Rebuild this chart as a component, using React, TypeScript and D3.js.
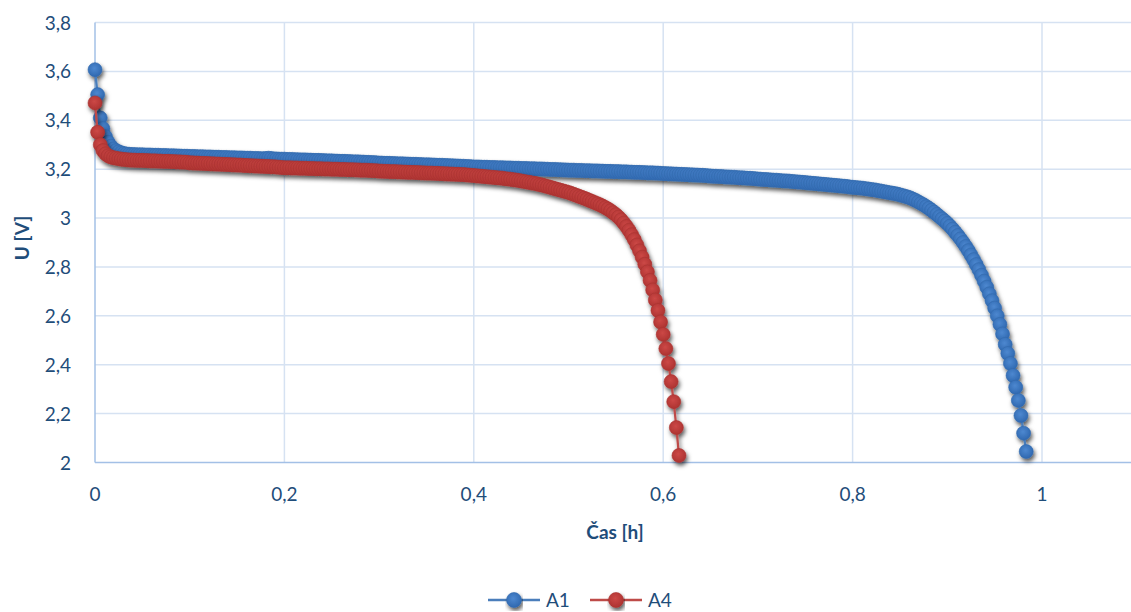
import React, { useEffect, useRef } from "react";
import * as d3 from "d3";

const W = 1131;
const H = 612;

// one measurement every 10 s, time axis in hours
const SAMPLE_STEP_H = 10 / 3600;

// cell voltage in mV, sample by sample
const a1mV = [
  3607, 3505, 3410, 3366, 3333, 3310, 3294, 3283, 3276, 3271, 3267, 3264, 3262, 3261,
  3260, 3260, 3259, 3259, 3259, 3258, 3258, 3258, 3257, 3257, 3257, 3256, 3256, 3256, 3255, 3255, 3255, 3254, 3254, 3253, 3253, 3253,
  3252, 3252, 3252, 3251, 3251, 3251, 3250, 3250, 3250, 3249, 3249, 3249, 3248, 3248, 3248, 3247, 3247, 3247,
  3246, 3246, 3246, 3245, 3245, 3245, 3244, 3244, 3244, 3243, 3243, 3244, 3245, 3244, 3242, 3242, 3241, 3241,
  3241, 3240, 3240, 3240, 3239, 3239, 3238, 3238, 3238, 3237, 3237, 3236, 3236, 3236, 3235, 3235, 3234, 3234,
  3234, 3233, 3233, 3232, 3232, 3232, 3231, 3231, 3230, 3230, 3230, 3229, 3229, 3228, 3228, 3227, 3227, 3226,
  3225, 3225, 3224, 3224, 3224, 3223, 3223, 3222, 3222, 3222, 3221, 3221, 3220, 3220, 3220, 3219, 3219, 3218,
  3218, 3218, 3217, 3217, 3216, 3216, 3216, 3215, 3215, 3214, 3214, 3213, 3213, 3212, 3212, 3211, 3211, 3210,
  3209, 3209, 3209, 3208, 3208, 3208, 3207, 3207, 3207, 3206, 3206, 3206, 3205, 3205, 3205, 3204, 3204, 3204,
  3203, 3203, 3203, 3202, 3202, 3202, 3201, 3201, 3201, 3200, 3200, 3199, 3199, 3199, 3198, 3198, 3197, 3197,
  3196, 3196, 3196, 3195, 3195, 3195, 3194, 3194, 3194, 3193, 3193, 3193, 3192, 3192, 3191, 3191, 3191, 3190,
  3190, 3190, 3189, 3189, 3189, 3188, 3188, 3187, 3187, 3187, 3186, 3186, 3185, 3185, 3185, 3184, 3184, 3183,
  3182, 3182, 3181, 3181, 3180, 3180, 3179, 3179, 3178, 3178, 3177, 3177, 3176, 3176, 3175, 3175, 3174, 3173,
  3172, 3171, 3171, 3170, 3170, 3169, 3168, 3168, 3167, 3167, 3166, 3165, 3165, 3164, 3163, 3163, 3162, 3161,
  3160, 3159, 3158, 3158, 3157, 3156, 3155, 3155, 3154, 3153, 3152, 3152, 3151, 3150, 3149, 3148, 3147, 3146,
  3145, 3144, 3143, 3142, 3141, 3140, 3139, 3138, 3137, 3136, 3135, 3134, 3133, 3132, 3131, 3130, 3129, 3127,
  3126, 3125, 3124, 3123, 3122, 3120, 3119, 3117, 3116, 3114, 3112, 3110, 3108, 3106, 3104, 3102, 3100, 3098,
  3095, 3092, 3089, 3086, 3082, 3077, 3072, 3066, 3060, 3054, 3047, 3040, 3032, 3024, 3015, 3006, 2997, 2988,
  2978, 2967, 2955, 2942, 2929, 2915, 2900, 2884, 2867, 2849, 2830, 2810, 2789, 2766, 2742, 2717, 2690, 2662,
  2632, 2600, 2565, 2526, 2483, 2446, 2405, 2356, 2308, 2254, 2192, 2120, 2045,
];

const a4mV = [
  3471, 3351, 3300, 3276, 3263, 3255, 3250, 3247, 3245, 3243, 3241, 3240, 3239, 3238,
  3237, 3237, 3236, 3236, 3236, 3235, 3235, 3234, 3234, 3234, 3233, 3233, 3232, 3232, 3232, 3231, 3231, 3230, 3230, 3229, 3229, 3228,
  3226, 3226, 3225, 3225, 3224, 3224, 3223, 3223, 3222, 3222, 3221, 3221, 3220, 3220, 3219, 3219, 3218, 3218,
  3217, 3217, 3216, 3215, 3215, 3214, 3214, 3213, 3213, 3212, 3212, 3211, 3211, 3210, 3210, 3209, 3208, 3207,
  3206, 3206, 3206, 3205, 3205, 3205, 3204, 3204, 3204, 3203, 3203, 3203, 3202, 3202, 3202, 3201, 3201, 3201,
  3200, 3200, 3200, 3199, 3199, 3199, 3198, 3198, 3198, 3197, 3197, 3196, 3196, 3196, 3195, 3195, 3194, 3194,
  3192, 3192, 3191, 3191, 3190, 3190, 3190, 3189, 3189, 3188, 3188, 3187, 3187, 3187, 3186, 3186, 3185, 3185,
  3184, 3184, 3184, 3183, 3183, 3182, 3182, 3181, 3181, 3180, 3180, 3179, 3179, 3178, 3178, 3177, 3176, 3175,
  3174, 3173, 3172, 3171, 3170, 3169, 3168, 3167, 3166, 3165, 3164, 3163, 3161, 3160, 3159, 3157, 3156, 3154,
  3152, 3150, 3148, 3146, 3144, 3142, 3140, 3137, 3135, 3132, 3129, 3126, 3123, 3120, 3117, 3114, 3111, 3108,
  3105, 3101, 3097, 3093, 3089, 3085, 3081, 3077, 3072, 3068, 3063, 3059, 3054, 3049, 3043, 3037, 3030, 3022,
  3014, 3004, 2993, 2980, 2966, 2950, 2932, 2912, 2890, 2866, 2840, 2811, 2780, 2745, 2706, 2665, 2622, 2575,
  2524, 2466, 2405, 2331, 2249, 2143, 2029,
];

const seriesNames = ["A1", "A4"];
const xTicks = [0, 0.2, 0.4, 0.6, 0.8, 1];
const yTicks = [2, 2.2, 2.4, 2.6, 2.8, 3, 3.2, 3.4, 3.6, 3.8];

const FONT = "Lato, 'Open Sans', sans-serif";
const TEXT = "#1f4d7a";
const comma = (v: number) => String(+v.toFixed(1)).replace(".", ",");

export default function App() {
  const ref = useRef<SVGSVGElement>(null);

  useEffect(() => {
    const svg = d3.select(ref.current);
    svg.selectAll("*").remove();

    const x = d3.scaleLinear().domain([0, 1.1]).range([95, 95 + 947 * 1.1]);
    const y = d3.scaleLinear().domain([2, 3.8]).range([462.5, 22.5]);

    const defs = svg.append("defs");
    const f = defs
      .append("filter")
      .attr("id", "shadow")
      .attr("x", "-5%")
      .attr("y", "-5%")
      .attr("width", "115%")
      .attr("height", "125%");
    f.append("feDropShadow")
      .attr("dx", 1.5)
      .attr("dy", 3)
      .attr("stdDeviation", 2.2)
      .attr("flood-color", "#000")
      .attr("flood-opacity", 0.65);

    const styles = [
      { line: "#4a7ebb", light: "#4d88d0", dark: "#2f68b0", stroke: "#3369ad" },
      { line: "#be4b48", light: "#cc4846", dark: "#ad3331", stroke: "#a93331" },
    ];
    styles.forEach((s, i) => {
      const g = defs
        .append("radialGradient")
        .attr("id", "mk" + i)
        .attr("cx", "45%")
        .attr("cy", "40%")
        .attr("r", "60%");
      g.append("stop").attr("offset", "0%").attr("stop-color", s.light);
      g.append("stop").attr("offset", "100%").attr("stop-color", s.dark);
    });

    // grid
    const grid = svg.append("g");
    grid
      .selectAll("line.h")
      .data(yTicks.slice(1))
      .join("line")
      .attr("x1", x(0))
      .attr("x2", x(1.1))
      .attr("y1", (d) => y(d))
      .attr("y2", (d) => y(d))
      .attr("stroke", "#d6e2f2")
      .attr("stroke-width", 1.5);
    grid
      .selectAll("line.v")
      .data(xTicks.slice(1))
      .join("line")
      .attr("x1", (d) => x(d))
      .attr("x2", (d) => x(d))
      .attr("y1", y(3.8))
      .attr("y2", y(2))
      .attr("stroke", "#d6e2f2")
      .attr("stroke-width", 1.5);

    // axis lines
    svg
      .append("line")
      .attr("x1", x(0))
      .attr("x2", x(0))
      .attr("y1", y(3.8))
      .attr("y2", y(2))
      .attr("stroke", "#a3c0e6")
      .attr("stroke-width", 1.5);
    svg
      .append("line")
      .attr("x1", x(0))
      .attr("x2", x(1.1))
      .attr("y1", y(2))
      .attr("y2", y(2))
      .attr("stroke", "#a3c0e6")
      .attr("stroke-width", 1.5);

    // tick labels
    svg
      .append("g")
      .selectAll("text")
      .data(yTicks)
      .join("text")
      .attr("x", 71)
      .attr("y", (d) => y(d) + 7)
      .attr("text-anchor", "end")
      .attr("font-family", FONT)
      .attr("font-size", 19)
      .attr("fill", TEXT)
      .text(comma);
    svg
      .append("g")
      .selectAll("text")
      .data(xTicks)
      .join("text")
      .attr("x", (d) => x(d))
      .attr("y", 501)
      .attr("text-anchor", "middle")
      .attr("font-family", FONT)
      .attr("font-size", 19)
      .attr("fill", TEXT)
      .text(comma);

    // titles
    svg
      .append("text")
      .attr("transform", "translate(29,238) rotate(-90)")
      .attr("text-anchor", "middle")
      .attr("font-family", FONT)
      .attr("font-size", 19)
      .attr("font-weight", 700)
      .attr("fill", TEXT)
      .text("U [V]");
    svg
      .append("text")
      .attr("x", 615)
      .attr("y", 539)
      .attr("text-anchor", "middle")
      .attr("font-family", FONT)
      .attr("font-size", 19)
      .attr("font-weight", 700)
      .attr("fill", TEXT)
      .text("Čas [h]");

    // series
    const allSeries = [a1mV, a4mV];
    allSeries.forEach((vals, si) => {
      const pts = vals.map((mv, i) => [i * SAMPLE_STEP_H, mv / 1000] as [number, number]);
      const s = styles[si];
      const g = svg.append("g").attr("filter", "url(#shadow)");
      const line = d3
        .line<[number, number]>()
        .x((d) => x(d[0]))
        .y((d) => y(d[1]));
      g.append("path")
        .attr("d", line(pts))
        .attr("fill", "none")
        .attr("stroke", s.line)
        .attr("stroke-width", 2.25);
      g.selectAll("circle")
        .data(pts)
        .join("circle")
        .attr("cx", (d) => x(d[0]))
        .attr("cy", (d) => y(d[1]))
        .attr("r", 7)
        .attr("fill", `url(#mk${si})`)
        .attr("stroke", s.stroke)
        .attr("stroke-width", 0.6);
    });

    // legend
    const legendX = [488, 590];
    seriesNames.forEach((name, i) => {
      const s = styles[i];
      const lg = svg.append("g").attr("transform", `translate(${legendX[i]},600)`);
      lg.append("line")
        .attr("x1", 0)
        .attr("x2", 52)
        .attr("stroke", s.line)
        .attr("stroke-width", 2.5);
      lg.append("circle")
        .attr("cx", 26)
        .attr("r", 7.5)
        .attr("fill", `url(#mk${i})`)
        .attr("stroke", s.stroke)
        .attr("stroke-width", 0.6)
        .attr("filter", "url(#shadow)");
      lg.append("text")
        .attr("x", 58)
        .attr("y", 7)
        .attr("font-family", FONT)
        .attr("font-size", 19)
        .attr("fill", TEXT)
        .text(name);
    });
  }, []);

  return (
    <svg
      ref={ref}
      width={W}
      height={H}
      style={{ position: "absolute", left: 0, top: 0, background: "#fff" }}
    />
  );
}
